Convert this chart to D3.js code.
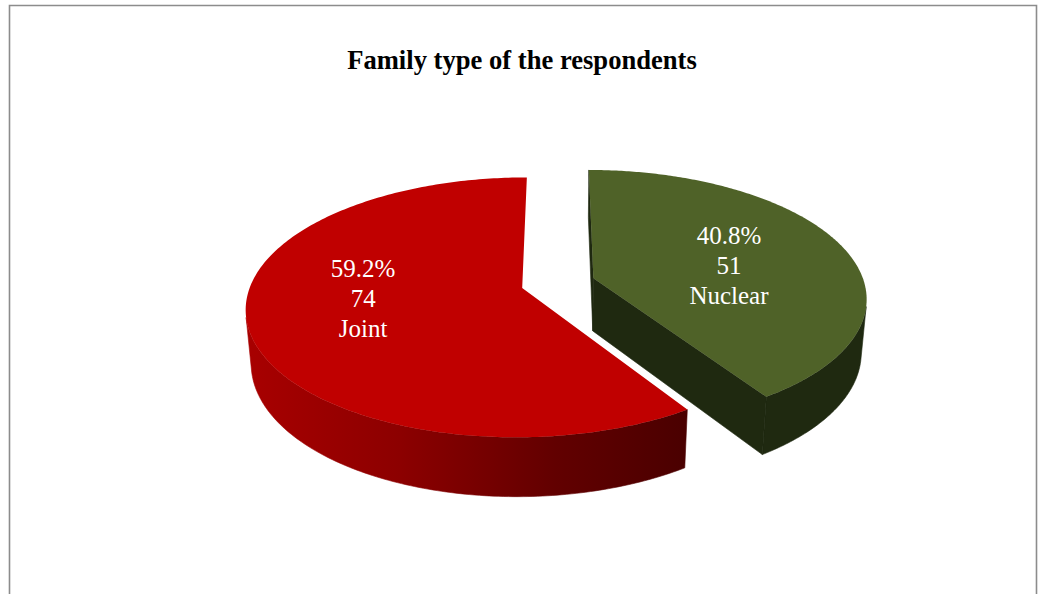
<!DOCTYPE html>
<html>
<head>
<meta charset="utf-8">
<script src="https://cdn.jsdelivr.net/npm/d3@7"></script>
<style>
  html, body { margin: 0; padding: 0; background: #fff; }
  svg { display: block; }
</style>
</head>
<body>
<script>
// data, in the order the chart draws them (clockwise from 12 o'clock)
var categories = ["Nuclear", "Joint"];
var counts = [51, 74];
var topColors = ["#4f6228", "#c00000"];

var width = 1041, height = 594;

// 3d view settings, tuned by eye against the picture
var cx = 558, cy = 283;       // screen position of the pie centre (top face)
var radiusPx = 271;           // pixels per unit radius
var tilt = Math.asin(0.4634); // elevation of the camera
var dist = 5.97;              // perspective distance, in radii
var depth = 0.2246;           // thickness of the pie, in radii
var explode = 0.137;          // slice explosion, in radii
var cullCamX = -0.13;         // camera x used to decide which cut faces show

var cosA = Math.cos(tilt), sinA = Math.sin(tilt);
var camZ = dist * cosA;

function project(X, Y, Z) {
    var up = Y * cosA - Z * sinA;
    var dep = Y * sinA + Z * cosA;
    var s = dist / (dist - dep);
    return [cx + radiusPx * X * s, cy - radiusPx * up * s];
}

var svg = d3.select("body").append("svg")
    .attr("width", width)
    .attr("height", height);

var defs = svg.append("defs");

// frame of the chart area
svg.append("path")
    .attr("d", "M9.5," + (height + 2) + "V5.5H1036.5V" + (height + 2))
    .attr("fill", "none")
    .attr("stroke", "#8c8c8c")
    .attr("stroke-width", 1.6);

svg.append("text")
    .attr("x", 522)
    .attr("y", 69)
    .attr("text-anchor", "middle")
    .attr("font-family", "'Liberation Serif', 'Times New Roman', serif")
    .attr("font-weight", "bold")
    .attr("font-size", 26.6)
    .text("Family type of the respondents");

var total = d3.sum(counts);
var slices = d3.pie().sort(null).startAngle(0).endAngle(2 * Math.PI)(counts);

var line = d3.line();

// side colours: green is flat, red gets a dark-to-right gradient
var sideFill = ["#1f2910", "url(#redSide)"];

slices.forEach(function (sl, i) {
    var a0 = sl.startAngle, a1 = sl.endAngle;
    var mid = (a0 + a1) / 2;
    var ox = explode * Math.sin(mid), oz = -explode * Math.cos(mid);

    function pt(a, r, Y) {
        return project(ox + r * Math.sin(a), Y, oz - r * Math.cos(a));
    }
    // outer rim faces the camera?
    function rimVisible(a) {
        var nx = Math.sin(a), nz = -Math.cos(a);
        var px = ox + nx, pz = oz + nz;
        return nx * (0 - px) + nz * (camZ - pz) > 0;
    }

    var steps = d3.range(0, 241).map(function (k) { return a0 + (a1 - a0) * k / 240; });
    var vis = steps.filter(rimVisible);

    var g = svg.append("g").attr("class", "slice " + categories[i]);

    var topArc = steps.map(function (a) { return pt(a, 1, 0); });

    if (i === 1) {
        var xs = topArc.map(function (p) { return p[0]; });
        var grad = defs.append("linearGradient")
            .attr("id", "redSide")
            .attr("gradientUnits", "userSpaceOnUse")
            .attr("x1", d3.min(xs)).attr("x2", d3.max(xs))
            .attr("y1", 0).attr("y2", 0);
        [[0, "#a80000"], [0.35, "#8c0000"], [0.7, "#620000"], [1, "#4a0000"]].forEach(function (s) {
            grad.append("stop").attr("offset", s[0]).attr("stop-color", s[1]);
        });
    }

    // outer side, only the part turned to the camera
    if (vis.length > 1) {
        var vt = vis.map(function (a) { return pt(a, 1, 0); });
        var vb = vis.map(function (a) { return pt(a, 1, -depth); });
        g.append("path")
            .attr("d", line(vt.concat(vb.reverse())) + "Z")
            .attr("fill", sideFill[i])
            .attr("stroke", sideFill[i])
            .attr("stroke-width", 0.6)
            .attr("stroke-linejoin", "round");
    }

    // cut faces, only those turned to the camera
    [[a0, -1], [a1, 1]].forEach(function (f) {
        var a = f[0];
        var nx = f[1] * Math.cos(a), nz = f[1] * Math.sin(a);
        var facing = nx * (cullCamX - ox) + nz * (camZ - oz) > 0.01;
        if (!facing) return;
        var quad = [pt(a, 0, 0), pt(a, 1, 0), pt(a, 1, -depth), pt(a, 0, -depth)];
        g.append("path")
            .attr("d", line(quad) + "Z")
            .attr("fill", sideFill[i])
            .attr("stroke", sideFill[i])
            .attr("stroke-width", 0.6)
            .attr("stroke-linejoin", "round");
    });

    // top face
    g.append("path")
        .attr("d", line([pt(a0, 0, 0)].concat(topArc)) + "Z")
        .attr("fill", topColors[i]);
});

// data labels: percent, count, category
var labelRadius = [0.54, 0.59];
var labelNudge = [7, -11];
var fmt = d3.format(".1%");

slices.forEach(function (sl, i) {
    var mid = (sl.startAngle + sl.endAngle) / 2;
    var ox = explode * Math.sin(mid), oz = -explode * Math.cos(mid);
    var r = labelRadius[i];
    var p = project(ox + r * Math.sin(mid), 0, oz - r * Math.cos(mid));
    var lines = [fmt(counts[i] / total), String(counts[i]), categories[i]];
    var t = svg.append("text")
        .attr("text-anchor", "middle")
        .attr("font-family", "'Liberation Serif', 'Times New Roman', serif")
        .attr("font-size", 25)
        .attr("fill", "#ffffff");
    lines.forEach(function (s, k) {
        t.append("tspan")
            .attr("x", p[0])
            .attr("y", p[1] + labelNudge[i] + 8 + (k - 1) * 30)
            .text(s);
    });
});
</script>
</body>
</html>
